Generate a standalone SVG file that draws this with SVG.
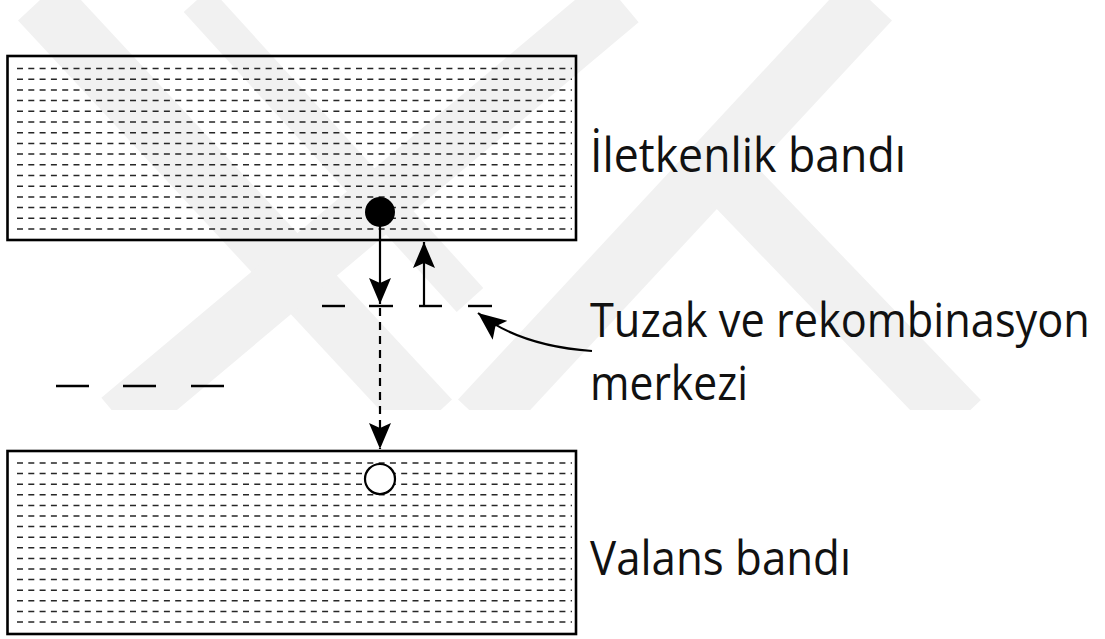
<svg xmlns="http://www.w3.org/2000/svg" width="1105" height="639" viewBox="0 0 1105 639">
  <defs>
    <style>
      .wm { stroke: #f1f1f1; fill: none; stroke-linecap: butt; }
      .band { fill: none; stroke: #000; stroke-width: 2.6; }
      .fill-line { stroke: #262626; stroke-width: 1.5; stroke-dasharray: 6 5.3; }
      .level { stroke: #000; stroke-width: 2.4; }
      .conn { stroke: #000; stroke-width: 2.2; fill: none; }
      .conn-dash { stroke: #000; stroke-width: 2.2; fill: none; stroke-dasharray: 8 6; }
      .label { font-family: "Open Sans", "Noto Sans", "Liberation Sans", sans-serif; font-size: 47px; fill: #111; }
    </style>
    <clipPath id="logo-clip">
      <rect x="0" y="0" width="1105" height="410"/>
    </clipPath>
    <marker id="head" viewBox="0 0 26 22" refX="26" refY="11" markerWidth="26" markerHeight="22" markerUnits="userSpaceOnUse" orient="auto">
      <path d="M0,0 L26,11 L0,22 L5,11 z" fill="#000"/>
    </marker>
    <marker id="head-curve" viewBox="0 0 28 24" refX="28" refY="12" markerWidth="28" markerHeight="24" markerUnits="userSpaceOnUse" orient="auto">
      <path d="M0,0 L28,12 L0,24 L6,12 z" fill="#000"/>
    </marker>
  </defs>

  <rect width="1105" height="639" fill="#ffffff"/>

  <!-- faint background logo -->
  <g id="logo" clip-path="url(#logo-clip)">
    <line class="wm" stroke-width="60" x1="40" y1="0" x2="430" y2="420"/>
    <line class="wm" stroke-width="36" x1="197" y1="0" x2="470" y2="300"/>
    <line class="wm" stroke-width="58" x1="620" y1="0" x2="120" y2="420"/>
    <line class="wm" stroke-width="60" x1="870" y1="0" x2="480" y2="420"/>
    <line class="wm" stroke-width="58" x1="729" y1="180" x2="960" y2="420"/>
  </g>

  <!-- conduction band -->
  <g id="conduction-band">
    <g id="conduction-fill">
      <line class="fill-line" x1="17" y1="68.5" x2="572" y2="68.5"/>
      <line class="fill-line" x1="17" y1="79.2" x2="572" y2="79.2"/>
      <line class="fill-line" x1="17" y1="89.9" x2="572" y2="89.9"/>
      <line class="fill-line" x1="17" y1="100.6" x2="572" y2="100.6"/>
      <line class="fill-line" x1="17" y1="111.3" x2="572" y2="111.3"/>
      <line class="fill-line" x1="17" y1="122" x2="572" y2="122"/>
      <line class="fill-line" x1="17" y1="132.7" x2="572" y2="132.7"/>
      <line class="fill-line" x1="17" y1="143.4" x2="572" y2="143.4"/>
      <line class="fill-line" x1="17" y1="154.1" x2="572" y2="154.1"/>
      <line class="fill-line" x1="17" y1="164.8" x2="572" y2="164.8"/>
      <line class="fill-line" x1="17" y1="175.5" x2="572" y2="175.5"/>
      <line class="fill-line" x1="17" y1="186.2" x2="572" y2="186.2"/>
      <line class="fill-line" x1="17" y1="196.9" x2="572" y2="196.9"/>
      <line class="fill-line" x1="17" y1="207.6" x2="572" y2="207.6"/>
      <line class="fill-line" x1="17" y1="218.3" x2="572" y2="218.3"/>
      <line class="fill-line" x1="17" y1="229" x2="572" y2="229"/>
    </g>
    <rect class="band" x="7.5" y="56" width="568.5" height="184"/>
    <text class="label" x="590" y="172" textLength="316" lengthAdjust="spacingAndGlyphs">İletkenlik bandı</text>
  </g>

  <!-- valence band -->
  <g id="valence-band">
    <g id="valence-fill">
      <line class="fill-line" x1="17" y1="463" x2="572" y2="463"/>
      <line class="fill-line" x1="17" y1="473.6" x2="572" y2="473.6"/>
      <line class="fill-line" x1="17" y1="484.2" x2="572" y2="484.2"/>
      <line class="fill-line" x1="17" y1="494.8" x2="572" y2="494.8"/>
      <line class="fill-line" x1="17" y1="505.4" x2="572" y2="505.4"/>
      <line class="fill-line" x1="17" y1="516" x2="572" y2="516"/>
      <line class="fill-line" x1="17" y1="526.6" x2="572" y2="526.6"/>
      <line class="fill-line" x1="17" y1="537.2" x2="572" y2="537.2"/>
      <line class="fill-line" x1="17" y1="547.8" x2="572" y2="547.8"/>
      <line class="fill-line" x1="17" y1="558.4" x2="572" y2="558.4"/>
      <line class="fill-line" x1="17" y1="569" x2="572" y2="569"/>
      <line class="fill-line" x1="17" y1="579.6" x2="572" y2="579.6"/>
      <line class="fill-line" x1="17" y1="590.2" x2="572" y2="590.2"/>
      <line class="fill-line" x1="17" y1="600.8" x2="572" y2="600.8"/>
      <line class="fill-line" x1="17" y1="611.4" x2="572" y2="611.4"/>
      <line class="fill-line" x1="17" y1="622" x2="572" y2="622"/>
    </g>
    <rect class="band" x="7.5" y="451" width="568.5" height="183"/>
    <text class="label" x="590" y="575" textLength="261" lengthAdjust="spacingAndGlyphs">Valans bandı</text>
  </g>

  <!-- trap and recombination levels -->
  <g id="trap-levels">
    <line class="level" x1="322" y1="306" x2="345" y2="306"/>
    <line class="level" x1="369" y1="306" x2="393" y2="306"/>
    <line class="level" x1="419" y1="306" x2="442" y2="306"/>
    <line class="level" x1="468" y1="306" x2="492" y2="306"/>
    <line class="level" x1="56" y1="386" x2="89" y2="386"/>
    <line class="level" x1="123" y1="386" x2="156" y2="386"/>
    <line class="level" x1="191" y1="386" x2="224" y2="386"/>
  </g>

  <!-- electron -->
  <g id="electron">
    <circle cx="380" cy="212" r="15" fill="#000"/>
  </g>

  <!-- hole -->
  <g id="hole">
    <circle cx="380" cy="479" r="15" fill="#ffffff" stroke="#000" stroke-width="2.2"/>
  </g>

  <!-- label for trap centres -->
  <g id="trap-label">
    <text class="label" transform="translate(590,337) scale(0.88,1)" x="0" y="0" textLength="568" lengthAdjust="spacingAndGlyphs">Tuzak ve rekombinasyon</text>
    <text class="label" x="590" y="400" textLength="158" lengthAdjust="spacingAndGlyphs">merkezi</text>
  </g>

  <!-- transitions -->
  <g id="connectors">
    <line class="conn" x1="380" y1="225" x2="380" y2="304" marker-end="url(#head)"/>
    <line class="conn" x1="424" y1="306" x2="424" y2="242" marker-end="url(#head)"/>
    <line class="conn-dash" x1="380" y1="308" x2="380" y2="449" marker-end="url(#head)"/>
    <path class="conn" d="M592,351 C550,348 510,338 478,313" marker-end="url(#head-curve)"/>
  </g>
</svg>
